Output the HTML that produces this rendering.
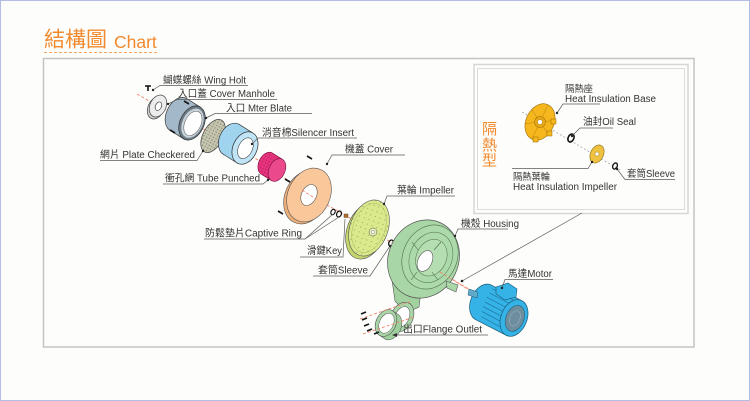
<!DOCTYPE html>
<html><head><meta charset="utf-8"><style>
html,body{margin:0;padding:0;background:#fdfdfb;}
svg{display:block;}
text{font-family:"Liberation Sans","Noto Sans CJK TC",sans-serif;fill:#333;}
.lbl{font-size:10px;}
.ld{stroke:#5a5a5a;stroke-width:0.7;fill:none;}
.dot{fill:#222;}
.ax{stroke:#f0846a;stroke-width:0.9;stroke-dasharray:3,2;fill:none;}
.sc{stroke:#151515;stroke-width:1.7;fill:none;}
</style></head><body>
<svg width="750" height="401" viewBox="0 0 750 401" xmlns="http://www.w3.org/2000/svg">
<defs>
<pattern id="speck" width="3" height="3" patternUnits="userSpaceOnUse">
<rect width="3" height="3" fill="#c6c6b0"/>
<circle cx="1" cy="1" r="0.65" fill="#7c7c68"/>
</pattern>
<pattern id="dots" width="5" height="5" patternUnits="userSpaceOnUse">
<rect width="5" height="5" fill="#dae98c"/>
<circle cx="2" cy="2" r="0.55" fill="#8a9a50"/>
</pattern>
<pattern id="mag" width="3" height="3" patternUnits="userSpaceOnUse">
<rect width="3" height="3" fill="#e8347e"/>
<circle cx="1.5" cy="1.5" r="0.6" fill="#b01858"/>
</pattern>
</defs>

<rect x="0.5" y="0.5" width="749" height="400" fill="#fdfdfb" stroke="#b3bde6" stroke-width="1"/>

<!-- Title -->
<text x="44" y="46.5" font-size="21" style="fill:#f28a2e">結構圖</text>
<text x="114" y="48" font-size="17.5" style="fill:#f28a2e">Chart</text>
<line x1="44" y1="52.5" x2="159" y2="52.5" stroke="#f5a560" stroke-width="1" stroke-dasharray="3,2"/>

<!-- Main box -->
<rect x="43.5" y="58.5" width="650.5" height="288.5" fill="none" stroke="#c4c4c4" stroke-width="1.5"/>

<!-- Inner box -->
<rect x="474" y="64.5" width="214" height="149" fill="none" stroke="#d6d6d6" stroke-width="1.5"/>
<rect x="477.5" y="68.5" width="207" height="141" fill="none" stroke="#dcdcdc" stroke-width="1"/>

<!-- Main axis line -->
<polyline class="ax" points="137,94 158,106 192,123 213,134 258,160 273,170 309,195 345,215 372,231 425,262 472,292"/>

<!-- Wing bolt -->
<path d="M145,86 h6 M148,86 v5" stroke="#111" stroke-width="1.6" fill="none"/>

<!-- Cover manhole -->
<g transform="translate(156,108) rotate(25)"><ellipse rx="8" ry="11.5" fill="#cfcfcf" stroke="#444" stroke-width="0.7"/></g>
<g transform="translate(158,106) rotate(25)">
<ellipse rx="8" ry="11.5" fill="#ececec" stroke="#444" stroke-width="0.7"/>
<ellipse cx="0.5" rx="3" ry="4.5" fill="#fff" stroke="#444" stroke-width="0.7"/>
</g>

<!-- Inlet cylinder -->
<g transform="translate(192,123) rotate(25)">
<path d="M0,-18 L-15.9,-20 A12,18 0 0 0 -15.9,16 L0,18 Z" fill="#a3b8c8" stroke="#3a3a3a" stroke-width="0.7"/>
<ellipse rx="12" ry="18" fill="#6b7a85" stroke="#333" stroke-width="0.7"/>
<ellipse cx="0.5" rx="10" ry="15.5" fill="#c9d3da"/>
<ellipse cx="1" rx="8" ry="13" fill="#fff" stroke="#555" stroke-width="0.5"/>
</g>

<!-- Plate checkered -->
<g transform="translate(213,136) rotate(28)">
<ellipse rx="10" ry="18" fill="url(#speck)" stroke="#444" stroke-width="0.7"/>
</g>

<!-- Silencer insert -->
<g transform="translate(245,148) rotate(25)">
<path d="M0,-17 L-15.9,-19 A12,17 0 0 0 -15.9,15 L0,17 Z" fill="#9fd3ee" stroke="#333" stroke-width="0.7"/>
<ellipse rx="12" ry="17" fill="#bfe5f7" stroke="#333" stroke-width="0.7"/>
<ellipse cx="0.5" rx="7" ry="11" fill="#fff" stroke="#444" stroke-width="0.6"/>
</g>

<!-- Tube punched -->
<g transform="translate(277,170) rotate(25)">
<path d="M0,-12 L-12,-13.5 A8,12 0 0 0 -12,10.5 L0,12 Z" fill="url(#mag)" stroke="#7a1040" stroke-width="0.6"/>
<ellipse rx="8" ry="12" fill="#ea4a8c" stroke="#7a1040" stroke-width="0.6"/>
</g>

<!-- Cover -->
<g transform="translate(306,197) rotate(25)"><ellipse rx="21" ry="28" fill="#eeae78" stroke="#555" stroke-width="0.6"/></g>
<g transform="translate(309,195) rotate(25)">
<ellipse rx="21" ry="28" fill="#f9c79a" stroke="#555" stroke-width="0.6"/>
<ellipse rx="7.5" ry="11" fill="#fff" stroke="#555" stroke-width="0.6"/>
</g>
<line class="ax" x1="302" y1="190" x2="316" y2="199"/>

<!-- Screws near cover/inlet -->
<path class="sc" d="M184,101 l5,3 M170,130 l5,3 M307,156 l5,3 M285,179 l5,3 M278,211 l5,3"/>

<!-- Rings & key -->
<g transform="translate(333,212) rotate(25)"><ellipse rx="2" ry="2.8" fill="none" stroke="#111" stroke-width="1.2"/></g>
<g transform="translate(339,214) rotate(25)"><ellipse rx="2.3" ry="3.1" fill="none" stroke="#111" stroke-width="1.2"/></g>
<rect x="344" y="214" width="4" height="3.5" fill="#b07030" stroke="#5a3010" stroke-width="0.4"/>

<!-- Impeller -->
<g transform="translate(366,231) rotate(20)"><ellipse rx="19" ry="29" fill="#c3d66e" stroke="#555" stroke-width="0.6"/></g>
<g transform="translate(369,228) rotate(20)">
<ellipse rx="19" ry="29" fill="url(#dots)" stroke="#555" stroke-width="0.6"/>
<ellipse rx="16" ry="25.5" fill="none" stroke="#9aab5a" stroke-width="0.4"/>
</g>
<circle cx="373" cy="232" r="4" fill="#e6f0b0" stroke="#555" stroke-width="0.5"/>
<circle cx="373" cy="232" r="1.8" fill="#fff" stroke="#555" stroke-width="0.4"/>

<!-- Sleeve -->
<g transform="translate(391,243) rotate(25)"><ellipse rx="2.2" ry="3.1" fill="none" stroke="#111" stroke-width="1.3"/></g>

<!-- Housing duct -->
<path d="M392,280 L421,291 L419,307 L406,313 L395,301 Z" fill="#a2d1a0" stroke="#555" stroke-width="0.6"/>
<!-- Housing -->
<g transform="translate(423.5,259) rotate(25)">
<ellipse rx="35" ry="40" fill="#a9d6a6" stroke="#555" stroke-width="0.7"/>
</g>
<g transform="translate(430,257) rotate(25)">
<ellipse rx="27" ry="33" fill="#addaaa" stroke="#4d6d4d" stroke-width="0.6"/>
<ellipse cx="1" rx="21" ry="26" fill="none" stroke="#4d6d4d" stroke-width="0.5"/>
<ellipse cx="1.5" rx="15" ry="19" fill="#b5deb2" stroke="#4d6d4d" stroke-width="0.5"/>
</g>
<path d="M418,250 l-6,-8 M434,250 l7,-8 M432,272 l6,8 M417,272 l-6,8" stroke="#4d6d4d" stroke-width="0.6"/>
<g transform="translate(425,261) rotate(25)"><ellipse rx="7" ry="11" fill="#fff" stroke="#555" stroke-width="0.6"/></g>
<path d="M446,281 L458,285 L456,292 L447,288 Z" fill="#a9d6a6" stroke="#555" stroke-width="0.6"/>

<!-- Flange & outlet sleeve -->
<g transform="translate(402,317) rotate(25)">
<ellipse rx="11" ry="15.5" fill="#a9d6a6" stroke="#555" stroke-width="0.6"/>
<ellipse rx="7" ry="11" fill="#fff" stroke="#555" stroke-width="0.5"/>
</g>
<g transform="translate(386,323) rotate(25)">
<path d="M0,-14 L6,-13 A10,14 0 0 1 6,15 L0,14 Z" fill="#9fcf9c" stroke="#555" stroke-width="0.5"/>
<ellipse rx="10" ry="14" fill="#a9d6a6" stroke="#555" stroke-width="0.6"/>
<ellipse cx="0.5" rx="7" ry="10.5" fill="#fff" stroke="#555" stroke-width="0.5"/>
</g>
<line class="ax" x1="360" y1="319" x2="412" y2="301"/>
<line class="ax" x1="363" y1="334" x2="414" y2="317"/>
<path class="sc" d="M361,314 l5,-2 M362,320 l5,-2 M364,326 l5,-2 M367,331 l5,-2 M374,334 l5,-2"/>

<!-- Housing -> motor axis -->
<line class="ax" x1="440" y1="272" x2="472" y2="291"/>

<!-- Motor -->
<g transform="translate(514,318) rotate(22)">
<path d="M0,-19 L-34,-22 A13,19 0 0 0 -34,16 L0,19 Z" fill="#35b3e6" stroke="#1a5a7a" stroke-width="0.7"/>
<path d="M-3,-16 L-31,-19 M-3,-11 L-32,-14 M-3,-6 L-33,-9 M-3,-1 L-33,-4 M-3,4 L-33,1 M-3,9 L-32,6 M-3,14 L-31,11" stroke="#1b6f99" stroke-width="0.6"/>
<ellipse rx="13" ry="19" fill="#35b3e6" stroke="#1a5a7a" stroke-width="0.7"/>
<ellipse cx="1" rx="9" ry="13.5" fill="#6e8e9e" stroke="#1a5a7a" stroke-width="0.5"/>
<ellipse cx="1" rx="5" ry="8" fill="none" stroke="#9ab4c0" stroke-width="0.5"/>
</g>
<path d="M496,287 L508,283 L517,289 L516,297 L505,300 L496,294 Z" fill="#35b3e6" stroke="#1a5a7a" stroke-width="0.6"/>
<path d="M469,289 L478,292 L477,298 L468,295 Z" fill="#5fa9c9" stroke="#1a5a7a" stroke-width="0.5"/>

<!-- Inner box parts -->
<line x1="522" y1="112" x2="620" y2="170" stroke="#9a9a9a" stroke-width="0.7" stroke-dasharray="2,2"/>
<g transform="translate(540,122) rotate(25)">
<ellipse rx="14" ry="19" fill="#f5b71d" stroke="#9a6a00" stroke-width="0.6"/>
<path d="M0,-6 L0,-19 M5,-3 L13,-8 M5,3 L13,8 M0,6 L0,19 M-5,3 L-13,8 M-5,-3 L-13,-8" stroke="#b98510" stroke-width="0.5"/>
<circle r="5.5" fill="#e9a818" stroke="#9a6a00" stroke-width="0.5"/>
<circle r="2.5" fill="#fff" stroke="#9a6a00" stroke-width="0.4"/>
</g>
<rect x="551" y="119" width="5" height="5" fill="#f5b71d" stroke="#9a6a00" stroke-width="0.5"/>
<rect x="547" y="131" width="5" height="5" fill="#f5b71d" stroke="#9a6a00" stroke-width="0.5"/>
<rect x="533" y="137" width="5" height="5" fill="#f5b71d" stroke="#9a6a00" stroke-width="0.5"/>
<g transform="translate(571,138) rotate(25)"><ellipse rx="2.8" ry="4.2" fill="none" stroke="#111" stroke-width="1.6"/></g>
<g transform="translate(597,154) rotate(25)">
<ellipse rx="6.5" ry="9.5" fill="#eec240" stroke="#8a6a10" stroke-width="0.6"/>
<circle r="2" fill="#fff" stroke="#8a6a10" stroke-width="0.4"/>
</g>
<g transform="translate(615,166) rotate(25)"><ellipse rx="2.2" ry="3.2" fill="none" stroke="#111" stroke-width="1.3"/></g>

<!-- Long leader from inner box -->
<line x1="582" y1="213" x2="462" y2="281" class="ld"/>
<circle cx="462" cy="281" r="1.3" class="dot"/>

<!-- Leaders / underlines -->
<g class="ld">
<polyline points="248,85.5 160,85.5 153,90"/>
<polyline points="277,99.5 177,99.5 168,104"/>
<polyline points="312,113.5 215,113.5 206,118"/>
<polyline points="357,138 258,138 252,144"/>
<polyline points="100,160.5 197,160.5 203,151"/>
<polyline points="163,184 263,184 268,180"/>
<polyline points="405,155 332,155 327,164"/>
<polyline points="455,196 387,196 384,204"/>
<polyline points="204,239 305,239 333,214"/>
<line x1="305" y1="239" x2="339" y2="217"/>
<polyline points="300,257 343,257 345,219"/>
<polyline points="313,276 370,276 390,246"/>
<polyline points="508,229 458,229 455,236"/>
<polyline points="553,279.5 505,279.5 502,288"/>
<line x1="395" y1="335" x2="488" y2="335"/>
<polyline points="600,104 563,104 557,113"/>
<polyline points="613,128 580,128 572,136"/>
<polyline points="512,168.5 588,168.5 592,162"/>
<polyline points="675,179.5 625,179.5 617,169"/>
</g>
<path d="M392,335 l5,-2 v4 Z" fill="#333"/>
<g class="dot">
<circle cx="153" cy="90" r="1.2"/><circle cx="168" cy="104" r="1.2"/><circle cx="206" cy="118" r="1.2"/>
<circle cx="252" cy="144" r="1.2"/><circle cx="203" cy="151" r="1.2"/><circle cx="268" cy="180" r="1.2"/>
<circle cx="327" cy="164" r="1.2"/><circle cx="384" cy="204" r="1.2"/><circle cx="390" cy="246" r="1.2"/>
<circle cx="455" cy="236" r="1.2"/><circle cx="502" cy="288" r="1.2"/>
<circle cx="557" cy="113" r="1.2"/><circle cx="572" cy="136" r="1.2"/><circle cx="592" cy="162" r="1.2"/><circle cx="617" cy="169" r="1.2"/>
</g>

<!-- Labels -->
<text class="lbl" x="163" y="83.5" textLength="83" lengthAdjust="spacingAndGlyphs">蝴蝶螺絲 Wing Holt</text>
<text class="lbl" x="178" y="97" textLength="97" lengthAdjust="spacingAndGlyphs">入口蓋 Cover Manhole</text>
<text class="lbl" x="226" y="111.5" textLength="66" lengthAdjust="spacingAndGlyphs">入口 Mter Blate</text>
<text class="lbl" x="262" y="136" textLength="92" lengthAdjust="spacingAndGlyphs">消音棉Silencer Insert</text>
<text class="lbl" x="100" y="158" textLength="95" lengthAdjust="spacingAndGlyphs">網片 Plate Checkered</text>
<text class="lbl" x="165" y="181.5" textLength="95" lengthAdjust="spacingAndGlyphs">衝孔網 Tube Punched</text>
<text class="lbl" x="345" y="152.5" textLength="48" lengthAdjust="spacingAndGlyphs">機蓋 Cover</text>
<text class="lbl" x="397" y="193.5" textLength="57" lengthAdjust="spacingAndGlyphs">葉輪 Impeller</text>
<text class="lbl" x="205" y="236.5" textLength="97" lengthAdjust="spacingAndGlyphs">防鬆墊片Captive Ring</text>
<text class="lbl" x="307" y="254" textLength="35" lengthAdjust="spacingAndGlyphs">滑鍵Key</text>
<text class="lbl" x="318" y="273.5" textLength="50" lengthAdjust="spacingAndGlyphs">套筒Sleeve</text>
<text class="lbl" x="461" y="227" textLength="58" lengthAdjust="spacingAndGlyphs">機殼 Housing</text>
<text class="lbl" x="508" y="277" textLength="44" lengthAdjust="spacingAndGlyphs">馬達Motor</text>
<text class="lbl" x="403" y="332.5" textLength="79" lengthAdjust="spacingAndGlyphs">出口Flange Outlet</text>

<text x="565" y="92" font-size="9.5" textLength="28" lengthAdjust="spacingAndGlyphs">隔熱座</text>
<text class="lbl" x="565" y="102" textLength="91" lengthAdjust="spacingAndGlyphs">Heat Insulation Base</text>
<text class="lbl" x="583" y="125" textLength="53" lengthAdjust="spacingAndGlyphs">油封Oil Seal</text>
<text x="513" y="180" font-size="9.5" textLength="37" lengthAdjust="spacingAndGlyphs">隔熱葉輪</text>
<text class="lbl" x="513" y="190" textLength="104" lengthAdjust="spacingAndGlyphs">Heat Insulation Impeller</text>
<text class="lbl" x="627" y="177" textLength="48" lengthAdjust="spacingAndGlyphs">套筒Sleeve</text>

<text x="482" y="134" font-size="15" style="fill:#f28a2e">隔</text>
<text x="482" y="150" font-size="15" style="fill:#f28a2e">熱</text>
<text x="482" y="165.5" font-size="15" style="fill:#f28a2e">型</text>
</svg>
</body></html>
